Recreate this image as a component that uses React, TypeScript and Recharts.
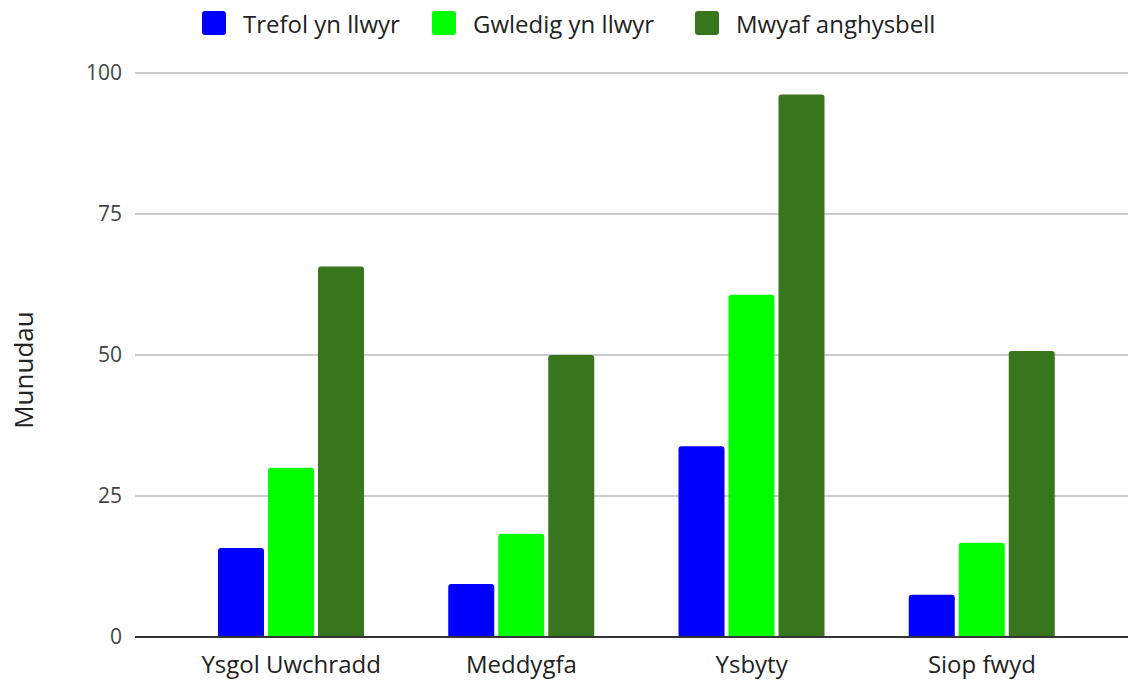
import React from 'react';
import { BarChart, Bar, XAxis, YAxis, CartesianGrid } from 'recharts';

// categorïau ar yr echel x
const categories = ['Ysgol Uwchradd', 'Meddygfa', 'Ysbyty', 'Siop fwyd'];

// amser teithio (munudau) ar gyfer pob math o ardal
const trefol = [15.8, 9.4, 33.8, 7.5];
const gwledig = [30.0, 18.3, 60.7, 16.7];
const anghysbell = [65.7, 50.0, 96.2, 50.7];

const yTicks = [0, 25, 50, 75, 100];

const series = [
  { key: 'trefol', name: 'Trefol yn llwyr', color: '#0000ff' },
  { key: 'gwledig', name: 'Gwledig yn llwyr', color: '#00ff00' },
  { key: 'anghysbell', name: 'Mwyaf anghysbell', color: '#38761d' },
];

const data = categories.map((name, i) => ({
  name,
  trefol: trefol[i],
  gwledig: gwledig[i],
  anghysbell: anghysbell[i],
}));

const FONT = '"Open Sans", sans-serif';

// legend ar y brig, wedi'i osod â llaw
function TopLegend() {
  const left = [202, 432, 695];
  return (
    <>
      {series.map((s, i) => (
        <div
          key={s.key}
          style={{
            position: 'absolute',
            left: left[i],
            top: 11,
            height: 24,
            display: 'flex',
            alignItems: 'center',
            fontFamily: FONT,
            fontSize: 24,
            color: '#222',
            whiteSpace: 'nowrap',
          }}
        >
          <span
            style={{
              display: 'inline-block',
              width: 24,
              height: 24,
              borderRadius: 3,
              background: s.color,
              marginRight: 17,
            }}
          />
          {s.name}
        </div>
      ))}
    </>
  );
}

export default function App() {
  return (
    <div style={{ position: 'absolute', left: 0, top: 0, width: 1129, height: 682, background: '#fff' }}>
      <TopLegend />
      <BarChart
        width={1129}
        height={682}
        data={data}
        margin={{ top: 73, right: 1, left: 0, bottom: 0 }}
        barSize={46}
        barGap={4}
      >
        <CartesianGrid vertical={false} stroke="#cccccc" strokeWidth={2} />
        <XAxis
          dataKey="name"
          height={45}
          padding={{ left: 41, right: 31 }}
          tickLine={false}
          tickSize={0}
          tickMargin={19}
          axisLine={{ stroke: '#333', strokeWidth: 2 }}
          tick={{ fill: '#222', fontSize: 24, fontFamily: FONT }}
        />
        <YAxis
          width={135}
          domain={[0, 100]}
          ticks={yTicks}
          axisLine={false}
          tickLine={false}
          tickSize={6}
          tickMargin={7}
          tick={{ fill: '#444', fontSize: 21, fontFamily: FONT }}
          label={{
            content: () => (
              <text
                x={33}
                y={370}
                transform="rotate(-90 33 370)"
                textAnchor="middle"
                fill="#222"
                fontSize={26}
                fontFamily={FONT}
              >
                Munudau
              </text>
            ),
          }}
        />
        {series.map((s) => (
          <Bar
            key={s.key}
            dataKey={s.key}
            name={s.name}
            fill={s.color}
            radius={[3, 3, 0, 0]}
            isAnimationActive={false}
          />
        ))}
      </BarChart>
    </div>
  );
}
